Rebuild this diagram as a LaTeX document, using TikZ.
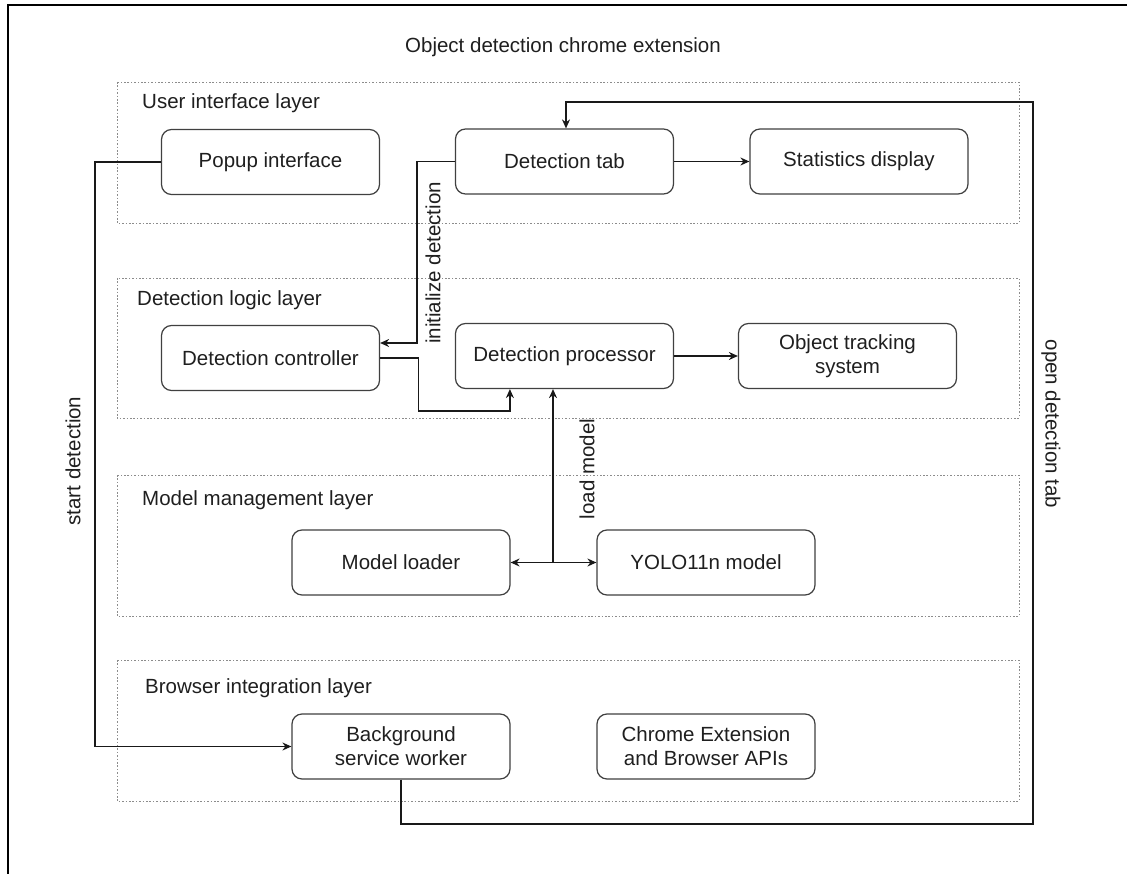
\documentclass[tikz,border=0pt]{standalone}
\usepackage{fontspec}
\setmainfont{Liberation Sans}
\usetikzlibrary{arrows.meta,calc}
\begin{document}
\begin{tikzpicture}[x=1pt,y=-1pt,
  txt/.style={font=\fontsize{20.5}{24}\selectfont, text=black!88},
  box/.style={txt, draw=black!75, line width=1.2pt, rounded corners=10pt, minimum width=218pt, minimum height=65pt, align=center, fill=white},
  layer/.style={draw=black!45, line width=0.8pt, dash pattern=on 1.6pt off 1.8pt},
  layerlabel/.style={txt, anchor=west, inner sep=0pt},
  conn/.style={draw=black!90, line width=1.2pt},
  arr/.style={conn, -{Stealth[length=9pt,width=8pt]}},
  elabel/.style={txt, inner sep=0pt}
]
\path[use as bounding box] (0,0) rectangle (1127,874);
\clip (0,0) rectangle (1127,874);
\fill[white] (0,0) rectangle (1127,874);
% outer frame
\draw[black, line width=1.8pt] (8,5) rectangle (1200,950);
\node[txt] (title) at (563,47) {Object detection chrome extension};

% layers
\draw[layer] (117,82) rectangle (1019,223);
\draw[layer] (117,278) rectangle (1019,418);
\draw[layer] (117,475) rectangle (1019,616);
\draw[layer] (117,660) rectangle (1019,801);
\node[layerlabel] (l1) at (142,103) {User interface layer};
\node[layerlabel] (l2) at (137,300) {Detection logic layer};
\node[layerlabel] (l3) at (142,500) {Model management layer};
\node[layerlabel] (l4) at (145,688) {Browser integration layer};

% nodes
\node[box] (popup) at (270.5,162) {Popup interface};
\node[box] (dtab) at (564.5,161.5) {Detection tab};
\node[box] (stats) at (859,161.5) {Statistics display};
\node[box] (dctl) at (270.5,358) {Detection controller};
\node[box] (proc) at (564.5,356) {Detection processor};
\node[box] (track) at (847.5,356) {Object tracking\\system};
\node[box] (loader) at (401,562.5) {Model loader};
\node[box] (yolo) at (706,562.5) {YOLO11n model};
\node[box] (bsw) at (401,746.5) {Background\\service worker};
\node[box] (apis) at (706,746.5) {Chrome Extension\\and Browser APIs};

% connectors
\draw[arr] (popup.west) -- ++(-66,0) |- (bsw.west);
\node[elabel, rotate=90] (lstart) at (73,461) {start detection};

\draw[arr] (dtab.west) -- ++(-38,0) |- ([yshift=15pt]dctl.east);
\node[elabel, rotate=90] (linit) at (433,263) {initialize detection};

\draw[arr] (dctl.east) -- ++(38,0) -- ++(0,53) -| ($(proc.south west)+(55,0)$);

\draw[arr] (dtab.east) -- (stats.west);
\draw[arr] (proc.east) -- (track.west);

\coordinate (j) at (553,562.5);
\draw[arr] (j) -- (proc.south -| j);
\draw[arr] (j) -- (loader.east);
\draw[arr] (j) -- (yolo.west);
\node[elabel, rotate=90] (lload) at (587,469) {load model};

\coordinate (c1) at (1033,824);
\coordinate (c2) at (1033,102);
\draw[arr] (bsw.south) |- (c1) -- (c2) -| ([xshift=1.5pt]dtab.north);
\node[elabel, rotate=-90] (lopen) at (1051,424) {open detection tab};
\end{tikzpicture}
\end{document}
